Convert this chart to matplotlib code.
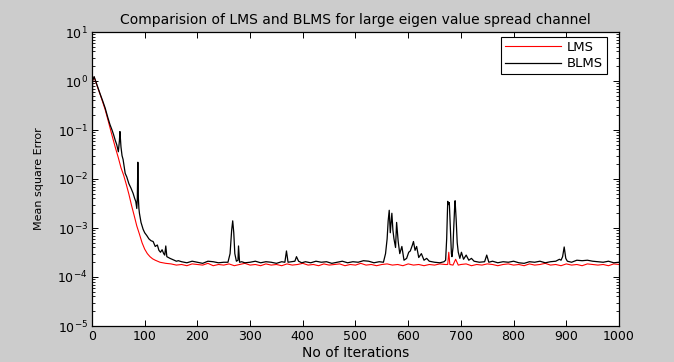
import matplotlib
matplotlib.use('Agg')
import matplotlib.pyplot as plt
import numpy as np
from matplotlib.ticker import FuncFormatter, FixedLocator, NullFormatter

# values (iteration, mean square error)
lms_iter = [0, 1, 4, 10, 15, 20, 25, 31, 37, 44,
            50, 55, 60, 65, 70, 75, 80, 85, 90, 95,
            100, 105, 110, 115, 120, 129, 140,
            150, 160, 170, 180, 190, 200, 210, 220, 230, 240,
            250, 260, 270, 280, 290, 300, 310, 320, 330, 340,
            350, 360, 370, 380, 390, 400, 410, 420, 430, 440,
            450, 460, 470, 480, 490, 500, 510, 520, 530, 540,
            550, 560, 570, 580, 590, 600, 610, 620, 630, 640,
            650, 660, 670,
            675, 677, 679, 685, 690, 695, 700,
            710, 720, 730, 740, 750, 760, 770, 780, 790, 800,
            810, 820, 830, 840, 850, 860, 870, 880, 890, 900,
            910, 920, 930, 940, 950, 960, 970, 980, 990, 1000]
lms_mse = [1e-4, 1.0, 1.2, 0.78, 0.55, 0.38, 0.26, 0.15, 0.085, 0.045,
           0.027, 0.017, 0.012, 0.0078, 0.0049, 0.0029, 0.0018, 0.0011, 7.5e-4, 5e-4,
           3.7e-4, 3.0e-4, 2.6e-4, 2.35e-4, 2.2e-4, 2.0e-4, 1.9e-4,
           1.85e-4, 1.75e-4, 1.8e-4, 1.7e-4, 1.85e-4, 1.8e-4, 1.75e-4, 1.9e-4, 1.7e-4, 1.8e-4,
           1.75e-4, 1.85e-4, 1.7e-4, 1.8e-4, 1.9e-4, 1.75e-4, 1.8e-4, 1.7e-4, 1.85e-4, 1.75e-4,
           1.8e-4, 1.7e-4, 1.85e-4, 1.75e-4, 1.8e-4, 1.9e-4, 1.75e-4, 1.8e-4, 1.7e-4, 1.85e-4,
           1.75e-4, 1.8e-4, 1.85e-4, 1.7e-4, 1.8e-4, 1.75e-4, 1.9e-4, 1.75e-4, 1.8e-4, 1.7e-4,
           1.8e-4, 1.85e-4, 1.75e-4, 1.8e-4, 1.7e-4, 1.85e-4, 1.75e-4, 1.8e-4, 1.7e-4, 1.8e-4,
           1.75e-4, 1.85e-4, 1.8e-4,
           1.8e-4, 3.2e-4, 1.8e-4, 1.75e-4, 2.3e-4, 1.75e-4, 1.8e-4,
           1.85e-4, 1.7e-4, 1.8e-4, 1.75e-4, 1.85e-4, 1.8e-4, 1.7e-4, 1.8e-4, 1.85e-4, 1.75e-4,
           1.8e-4, 1.7e-4, 1.85e-4, 1.75e-4, 1.8e-4, 1.9e-4, 1.75e-4, 1.8e-4, 1.7e-4, 1.85e-4,
           1.75e-4, 1.8e-4, 1.7e-4, 1.85e-4, 1.8e-4, 1.75e-4, 1.8e-4, 1.7e-4, 1.85e-4, 1.8e-4]

blms_iter = [0, 1, 4, 10, 15, 20, 25, 30, 34, 38,
             41, 44, 47, 50, 52, 53, 55, 57, 59, 61,
             63, 66, 70, 74, 78, 81, 83, 85, 86, 87,
             88, 89, 90, 93, 97, 100, 104, 108, 112, 116,
             120, 124, 127, 130, 133, 136, 138, 140, 142, 145,
             148, 152, 156, 160, 164,
             170, 180, 190, 200, 210, 220, 230, 240, 250,
             258, 262, 265, 267, 269, 271, 274, 277, 278, 280, 284, 290,
             300, 310, 320, 330, 340, 350, 360,
             366, 369, 372, 378, 385, 388, 392, 398,
             405, 415, 425, 435, 445, 455, 465, 475, 485, 495,
             505, 515, 525, 535, 545,
             553, 557, 560, 562, 564, 566, 569, 571, 573, 576,
             578, 581, 584, 588, 592, 597, 601, 604, 608, 610,
             613, 616, 620, 625, 630, 635, 640,
             650, 660, 668,
             671, 673, 675, 677, 678, 680, 682, 683, 685, 686,
             688, 689, 691, 693, 695, 698, 701, 705, 710, 715,
             720, 725,
             735, 745, 749, 753, 760, 770, 780, 790, 800, 810,
             820, 830, 840, 850, 860, 870, 880,
             887, 890, 893, 896, 899, 902,
             910, 920, 930, 940, 950, 960, 970, 980, 990, 1000]
blms_mse = [1e-4, 1.0, 1.23, 0.8, 0.56, 0.4, 0.28, 0.18, 0.13, 0.1,
            0.08, 0.062, 0.05, 0.036, 0.06, 0.093, 0.045, 0.03, 0.025, 0.018,
            0.013, 0.011, 0.008, 0.0065, 0.0051, 0.004, 0.0035, 0.0025, 0.004, 0.022,
            0.004, 0.0025, 0.002, 0.0013, 9.4e-4, 8e-4, 7e-4, 6e-4, 5.5e-4, 5.3e-4,
            4.2e-4, 4.5e-4, 3.5e-4, 3.2e-4, 3.6e-4, 3e-4, 2.8e-4, 4.3e-4, 2.6e-4, 2.5e-4,
            2.4e-4, 2.3e-4, 2.2e-4, 2.1e-4, 2.15e-4,
            2.05e-4, 1.95e-4, 2.1e-4, 2.0e-4, 1.9e-4, 2.1e-4, 2.05e-4, 1.95e-4, 2.0e-4,
            2.0e-4, 3.0e-4, 9.0e-4, 1.4e-3, 8.0e-4, 3.0e-4, 2.1e-4, 2.2e-4, 4.3e-4, 2.0e-4, 2.05e-4, 1.95e-4,
            2.0e-4, 2.1e-4, 1.95e-4, 2.05e-4, 2.0e-4, 1.9e-4, 2.05e-4,
            2.0e-4, 3.4e-4, 2.0e-4, 2.05e-4, 2.1e-4, 2.6e-4, 2.1e-4, 1.95e-4,
            2.05e-4, 1.95e-4, 2.1e-4, 2.0e-4, 2.05e-4, 1.9e-4, 2.0e-4, 2.1e-4, 1.95e-4, 2.05e-4,
            2.0e-4, 2.15e-4, 2.1e-4, 1.95e-4, 2.05e-4,
            2.0e-4, 3.0e-4, 6.0e-4, 1.4e-3, 2.3e-3, 8.0e-4, 2.0e-3, 9.0e-4, 6.0e-4, 4.0e-4,
            1.3e-3, 5.3e-4, 3.0e-4, 4.2e-4, 2.2e-4, 2.4e-4, 3.2e-4, 3.4e-4, 4.5e-4, 5.3e-4,
            3.5e-4, 4.2e-4, 2.5e-4, 3.0e-4, 2.2e-4, 2.4e-4, 2.1e-4,
            2.0e-4, 1.95e-4, 2.05e-4,
            2.2e-4, 6.0e-4, 3.5e-3, 3.0e-3, 3.3e-3, 1.0e-3, 3.0e-4, 2.6e-4, 4.0e-4, 8.0e-4,
            2.5e-3, 3.6e-3, 1.5e-3, 5.0e-4, 3.2e-4, 2.4e-4, 3.2e-4, 2.3e-4, 2.8e-4, 2.2e-4,
            2.4e-4, 2.1e-4,
            2.0e-4, 2.05e-4, 2.8e-4, 2.0e-4, 2.1e-4, 1.95e-4, 2.05e-4, 2.0e-4, 2.1e-4, 1.95e-4,
            1.9e-4, 2.05e-4, 2.0e-4, 2.1e-4, 1.95e-4, 2.05e-4, 2.1e-4,
            2.3e-4, 2.2e-4, 2.6e-4, 4.1e-4, 2.4e-4, 2.1e-4,
            2.0e-4, 2.2e-4, 2.15e-4, 2.2e-4, 2.1e-4, 2.05e-4, 2.0e-4, 2.1e-4, 1.95e-4, 2.0e-4]

x_ticks = [0, 100, 200, 300, 400, 500, 600, 700, 800, 900, 1000]
y_exponents = [-5, -4, -3, -2, -1, 0, 1]

plt.rcParams['font.family'] = ['DejaVu Sans']

fig = plt.figure(figsize=(6.74, 3.62), dpi=100, facecolor='#cccccc')
ax = fig.add_axes([92 / 674, 36 / 362, 527 / 674, 294 / 362])
ax.set_facecolor('white')

ax.plot(lms_iter, lms_mse, color='red', lw=0.8, label='LMS')
ax.plot(blms_iter, blms_mse, color='black', lw=0.9, label='BLMS')

ax.set_yscale('log')
ax.set_xlim(0, 1000)
ax.set_ylim(1e-5, 1e1)
ax.set_xticks(x_ticks)
ax.yaxis.set_major_locator(FixedLocator([10.0 ** e for e in y_exponents]))
ax.yaxis.set_minor_locator(FixedLocator([m * 10.0 ** e for e in y_exponents[:-1] for m in range(2, 10)]))
ax.yaxis.set_minor_formatter(NullFormatter())
ax.yaxis.set_major_formatter(FuncFormatter(lambda v, _: r'$\mathregular{10^{%d}}$' % round(np.log10(v))))

ax.tick_params(which='both', direction='in', top=True, right=True, labelsize=9, pad=3)
ax.tick_params(which='major', length=4, width=0.7)
ax.tick_params(which='minor', length=2, width=0.6)
for s in ax.spines.values():
    s.set_linewidth(0.9)

ax.set_title('Comparision of LMS and BLMS for large eigen value spread channel', fontsize=10, pad=6)
ax.set_xlabel('No of Iterations', fontsize=10, labelpad=2)
ax.set_ylabel('Mean square Error', fontsize=8, labelpad=10)

leg = ax.legend(loc='upper right', bbox_to_anchor=(0.977, 0.983), borderaxespad=0,
                fontsize=9.5, fancybox=False, edgecolor='black', framealpha=1,
                handlelength=4.2, handletextpad=0.45, borderpad=0.3, labelspacing=0.25)
leg.get_frame().set_linewidth(0.8)

fig.savefig('out.png', dpi=100, facecolor=fig.get_facecolor())
